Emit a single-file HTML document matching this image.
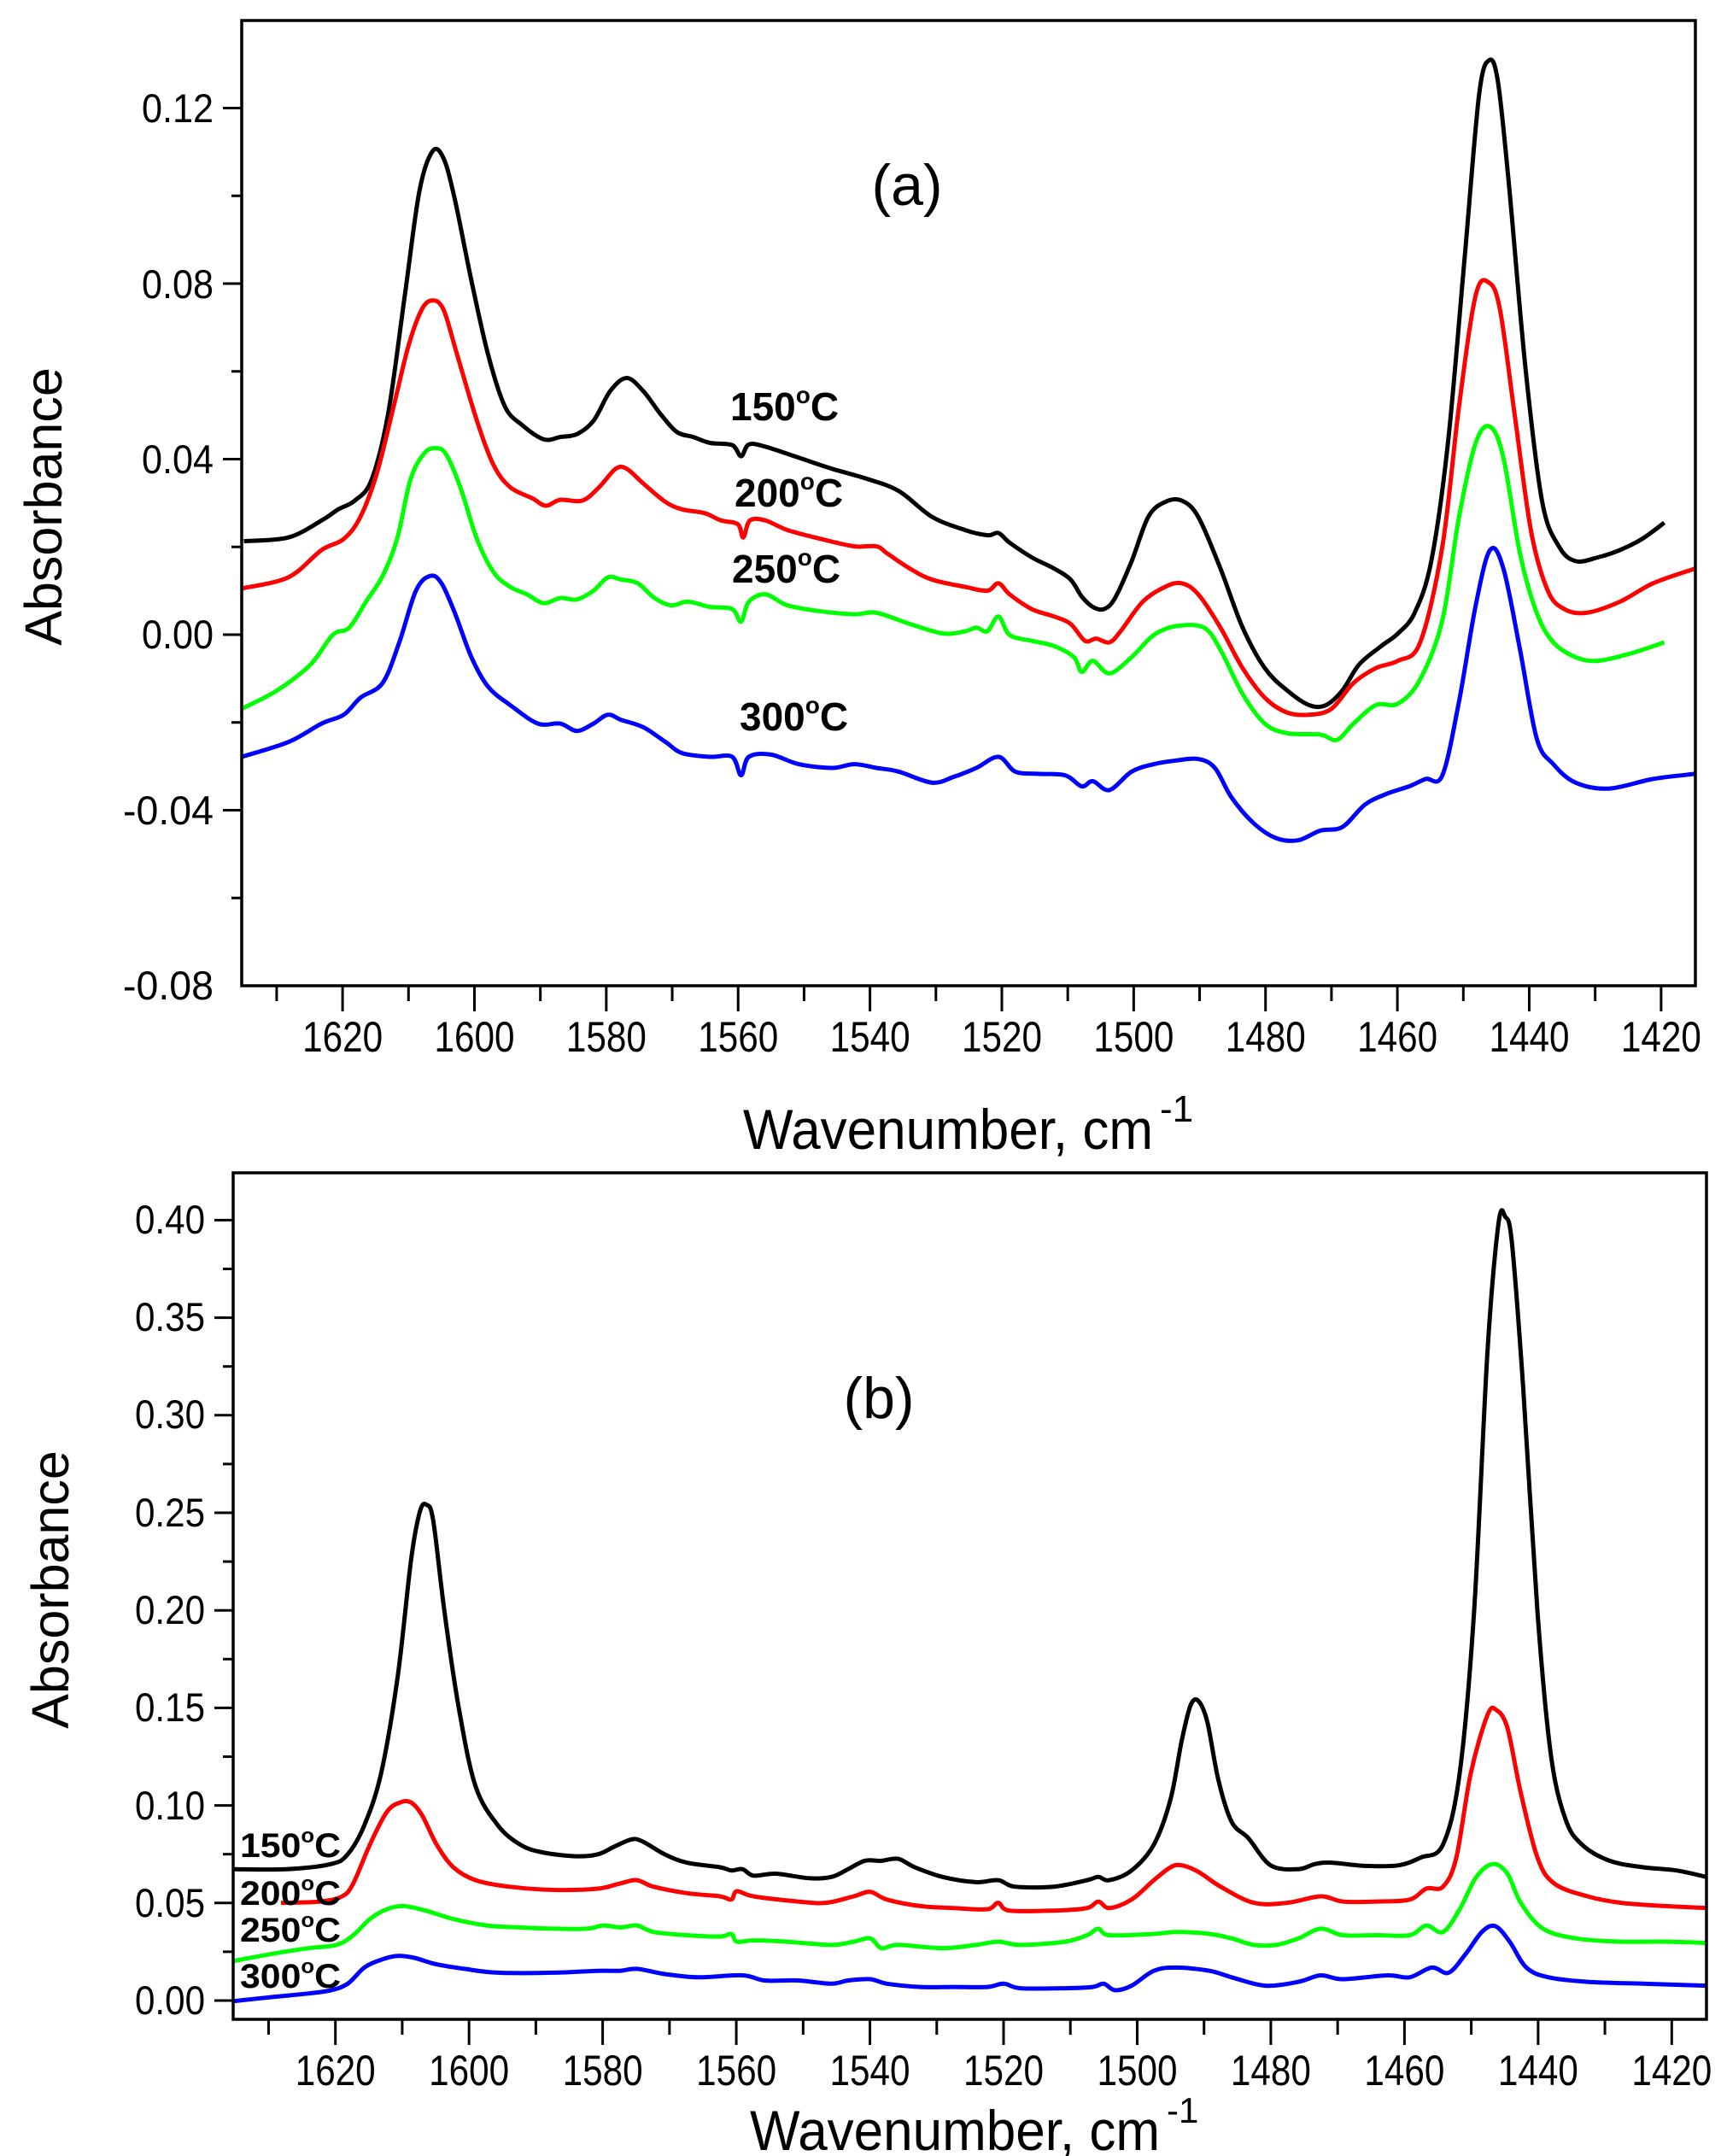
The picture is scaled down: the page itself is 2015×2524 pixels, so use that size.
<!DOCTYPE html>
<html><head><meta charset="utf-8"><style>
html,body{margin:0;padding:0;background:#fff;}
svg{display:block;}
text{font-family:"Liberation Sans",Arial,sans-serif;}
</style></head><body>
<svg id="s" width="2015" height="2524" xmlns="http://www.w3.org/2000/svg">
<g id="g"></g>
<g font-size="47" text-anchor="end" fill="#000">
<text x="250" y="143" textLength="84" lengthAdjust="spacingAndGlyphs">0.12</text>
<text x="250" y="349" textLength="84" lengthAdjust="spacingAndGlyphs">0.08</text>
<text x="250" y="554" textLength="84" lengthAdjust="spacingAndGlyphs">0.04</text>
<text x="250" y="759" textLength="84" lengthAdjust="spacingAndGlyphs">0.00</text>
<text x="250" y="965" textLength="106" lengthAdjust="spacingAndGlyphs">-0.04</text>
<text x="250" y="1170" textLength="106" lengthAdjust="spacingAndGlyphs">-0.08</text>
</g>
<g font-size="47" text-anchor="end" fill="#000">
<text x="240" y="1444" textLength="82" lengthAdjust="spacingAndGlyphs">0.40</text>
<text x="240" y="1558" textLength="82" lengthAdjust="spacingAndGlyphs">0.35</text>
<text x="240" y="1672" textLength="82" lengthAdjust="spacingAndGlyphs">0.30</text>
<text x="240" y="1787" textLength="82" lengthAdjust="spacingAndGlyphs">0.25</text>
<text x="240" y="1901" textLength="82" lengthAdjust="spacingAndGlyphs">0.20</text>
<text x="240" y="2015" textLength="82" lengthAdjust="spacingAndGlyphs">0.15</text>
<text x="240" y="2130" textLength="82" lengthAdjust="spacingAndGlyphs">0.10</text>
<text x="240" y="2244" textLength="82" lengthAdjust="spacingAndGlyphs">0.05</text>
<text x="240" y="2358" textLength="82" lengthAdjust="spacingAndGlyphs">0.00</text>
</g>
<g id="xl"></g>
<text x="1110" y="1345" font-size="66" text-anchor="middle" textLength="480" lengthAdjust="spacingAndGlyphs">Wavenumber, cm</text>
<text x="1358" y="1313" font-size="44">-1</text>
<text x="1118" y="2517" font-size="66" text-anchor="middle" textLength="480" lengthAdjust="spacingAndGlyphs">Wavenumber, cm</text>
<text x="1366" y="2485" font-size="42">-1</text>
<text transform="translate(72,593) rotate(-90)" font-size="61" text-anchor="middle">Absorbance</text>
<text transform="translate(80,1861) rotate(-90)" font-size="61" text-anchor="middle">Absorbance</text>
<text x="1062" y="240" font-size="68" text-anchor="middle">(a)</text>
<text x="1029" y="1660" font-size="68" text-anchor="middle">(b)</text>
<g font-weight="bold" font-size="46">
<text x="855" y="492">150<tspan font-size="28" dy="-20">o</tspan><tspan dy="20">C</tspan></text>
<text x="860" y="593">200<tspan font-size="28" dy="-20">o</tspan><tspan dy="20">C</tspan></text>
<text x="857" y="682">250<tspan font-size="28" dy="-20">o</tspan><tspan dy="20">C</tspan></text>
<text x="866" y="855">300<tspan font-size="28" dy="-20">o</tspan><tspan dy="20">C</tspan></text>
</g>
<g font-weight="bold" font-size="40">
<text x="281" y="2174" textLength="118" lengthAdjust="spacingAndGlyphs">150<tspan font-size="24" dy="-17">o</tspan><tspan dy="17">C</tspan></text>
<text x="281" y="2230" textLength="118" lengthAdjust="spacingAndGlyphs">200<tspan font-size="24" dy="-17">o</tspan><tspan dy="17">C</tspan></text>
<text x="281" y="2273" textLength="118" lengthAdjust="spacingAndGlyphs">250<tspan font-size="24" dy="-17">o</tspan><tspan dy="17">C</tspan></text>
<text x="281" y="2327" textLength="118" lengthAdjust="spacingAndGlyphs">300<tspan font-size="24" dy="-17">o</tspan><tspan dy="17">C</tspan></text>
</g>
</svg>
<script>
var NS="http://www.w3.org/2000/svg",g=document.getElementById('g'),xl=document.getElementById('xl');
function el(t,a,p){var e=document.createElementNS(NS,t);for(var k in a)e.setAttribute(k,a[k]);(p||g).appendChild(e);return e;}
function spline(P){var d="M"+P[0][0].toFixed(1)+","+P[0][1].toFixed(1);
for(var i=0;i<P.length-1;i++){var p0=P[i-1]||P[i],p1=P[i],p2=P[i+1],p3=P[i+2]||p2;
var c1=[p1[0]+(p2[0]-p0[0])/6,p1[1]+(p2[1]-p0[1])/6],c2=[p2[0]-(p3[0]-p1[0])/6,p2[1]-(p3[1]-p1[1])/6];
d+="C"+c1[0].toFixed(1)+","+c1[1].toFixed(1)+" "+c2[0].toFixed(1)+","+c2[1].toFixed(1)+" "+p2[0].toFixed(1)+","+p2[1].toFixed(1);}
return d;}
function panel(F,O,series,yt){
 var mx=function(x){return F[0]+(x-O[0])/(O[2]-O[0])*(F[2]-F[0]);},my=function(y){return F[1]+(y-O[1])/(O[3]-O[1])*(F[3]-F[1]);};
 var clip="c"+F[1];var cp=el('clipPath',{id:clip});el('rect',{x:F[0],y:F[1],width:F[2]-F[0],height:F[3]-F[1]},cp);
 series.forEach(function(s){var P=s[1].map(function(p){return [mx(p[0]),my(p[1])];});
  el('path',{d:spline(P),fill:'none',stroke:s[0],'stroke-width':5,'stroke-linejoin':'round','clip-path':'url(#'+clip+')'});});
 el('rect',{x:F[0],y:F[1],width:F[2]-F[0],height:F[3]-F[1],fill:'none',stroke:'#000','stroke-width':3.5});
 var w0=1635.3,w1=1414.8,wx=function(w){return F[0]+(w0-w)/(w0-w1)*(F[2]-F[0]);};
 for(var w=1630;w>=1415;w-=10){var X=wx(w),maj=(w%20==0);
  el('line',{x1:X,y1:F[3],x2:X,y2:F[3]+(maj?30:18),stroke:'#000','stroke-width':3});
  if(maj){var t=el('text',{x:X,y:F[3]+77,'font-size':50,'text-anchor':'middle',textLength:94,lengthAdjust:'spacingAndGlyphs'},xl);t.textContent=w;}}
 yt.forEach(function(y){el('line',{x1:F[0]-y[1],y1:y[0],x2:F[0],y2:y[0],stroke:'#000','stroke-width':3});});
}
var A_k=[],A_y0=743,A_st=102.75;
for(var i=-4;i<=6;i++){var yy=A_y0-i*A_st;if(yy>24&&yy<1154)A_k.push([yy,i%2==0?22:12]);}
var B_k=[];for(var i=0;i<=17;i++){var yy=2342-i*57.1;if(yy>1373)B_k.push([yy,i%2==0?22:12]);}
var Ablack=[[220,733],[260,728],[290,705],[305,690],[320,678],[335,650],[350,560],[365,400],[378,260],[390,205],[400,215],[410,270],[425,380],[440,480],[455,550],[470,575],[490,595],[505,592],[520,588],[535,570],[550,530],[565,512],[580,530],[595,560],[610,585],[625,592],[640,600],[660,603],[668,618],[675,602],[690,605],[720,620],[750,635],[780,648],[810,665],[840,700],[870,718],[890,725],[900,722],[910,735],[930,755],[950,770],[965,785],[975,808],[985,822],[995,825],[1005,810],[1020,760],[1035,700],[1050,680],[1065,678],[1080,700],[1100,770],[1120,850],[1140,905],[1160,935],[1180,955],[1195,955],[1210,935],[1225,900],[1245,875],[1260,858],[1275,830],[1290,760],[1305,600],[1320,350],[1333,130],[1342,82],[1350,110],[1360,250],[1375,500],[1390,680],[1405,740],[1420,760],[1440,755],[1460,745],[1480,730],[1500,708]];
var Ared=[[218,797],[260,782],[290,745],[310,730],[325,700],[340,640],[355,550],[368,470],[380,420],[390,407],[400,420],[412,480],[430,570],[445,630],[460,660],[480,675],[492,685],[505,677],[525,678],[540,660],[555,635],[565,635],[580,655],[600,680],[615,690],[635,695],[650,705],[665,710],[670,728],[676,705],[690,705],[710,718],[740,730],[770,740],[790,740],[800,750],[820,770],[840,785],[870,795],[890,800],[900,790],[910,805],[930,825],[950,835],[965,845],[978,868],[988,865],[1000,870],[1010,855],[1030,815],[1050,795],[1065,790],[1080,805],[1100,850],[1120,905],[1140,945],[1160,965],[1180,968],[1200,960],[1220,925],[1240,905],[1260,895],[1280,870],[1300,740],[1315,550],[1330,400],[1342,383],[1352,420],[1365,560],[1380,720],[1395,800],[1410,825],[1430,830],[1460,815],[1490,790],[1528,770]];
var Agreen=[[218,960],[250,935],[280,900],[300,860],[315,850],[330,815],[345,780],[358,730],[370,650],[382,615],[392,607],[402,615],[415,660],[430,730],[445,775],[460,795],[475,805],[490,817],[505,810],[520,812],[535,800],[548,782],[560,785],[575,790],[590,810],[605,820],[620,815],[640,822],[660,825],[668,842],[675,815],[690,805],[710,820],[740,828],[770,832],[790,830],[820,845],[850,858],[870,855],[880,850],[890,855],[900,835],[910,860],[930,868],[950,875],[968,890],[975,910],[985,895],[1000,912],[1020,890],[1040,860],[1060,848],[1085,850],[1100,880],[1120,940],[1140,980],[1160,993],[1190,995],[1205,1002],[1220,980],[1240,955],[1260,953],[1280,920],[1300,840],[1315,700],[1330,600],[1343,578],[1355,620],[1370,750],[1385,830],[1400,870],[1420,890],[1440,895],[1470,885],[1500,870]];
var Ablue=[[218,1025],[260,1005],[290,980],[310,968],[325,945],[345,925],[360,870],[375,800],[388,780],[398,790],[410,830],[425,890],[440,930],[460,955],[485,980],[505,980],[520,990],[535,980],[548,968],[560,975],[580,985],[600,1005],[615,1020],[640,1025],[660,1025],[668,1050],[675,1025],[695,1022],[720,1035],[750,1040],[770,1035],[790,1040],[810,1045],[840,1060],[860,1052],[880,1040],[900,1025],[915,1045],[935,1048],[960,1050],[975,1065],[985,1058],[1000,1070],[1020,1045],[1040,1035],[1060,1030],[1080,1028],[1095,1040],[1110,1080],[1130,1115],[1150,1135],[1170,1138],[1190,1125],[1210,1120],[1230,1090],[1250,1075],[1270,1065],[1285,1055],[1300,1050],[1315,950],[1330,820],[1343,745],[1355,770],[1370,880],[1385,1000],[1400,1035],[1420,1060],[1450,1068],[1490,1055],[1528,1048]];
panel([283,24,1985,1154],[218,28,1528,1335],[['#000',Ablack],['#f00',Ared],['#0f0',Agreen],['#00f',Ablue]],A_k);
var Bblack=[[212,1098],[260,1098],[300,1090],[315,1075],[330,1030],[345,950],[360,800],[372,620],[380,545],[386,535],[392,560],[402,700],[415,850],[430,970],[450,1030],[470,1060],[490,1072],[520,1078],[540,1075],[555,1063],[570,1052],[580,1055],[600,1075],[620,1088],[650,1095],[660,1100],[670,1098],[680,1108],[700,1105],[730,1112],[750,1110],[765,1098],[780,1085],[795,1085],[810,1082],[825,1095],[850,1110],[880,1118],[900,1115],[915,1125],[950,1125],[980,1115],[990,1110],[1000,1115],[1020,1100],[1040,1060],[1055,990],[1065,900],[1073,845],[1080,838],[1088,870],[1098,960],[1110,1025],[1125,1050],[1145,1092],[1170,1098],[1185,1090],[1200,1088],[1230,1093],[1260,1092],[1280,1080],[1300,1060],[1315,950],[1328,700],[1340,300],[1350,100],[1356,90],[1362,130],[1372,350],[1385,700],[1397,920],[1410,1020],[1425,1060],[1450,1085],[1480,1095],[1510,1100],[1537,1110]];
var Bred=[[255,1150],[290,1148],[310,1140],[320,1120],[335,1060],[350,1010],[362,995],[372,995],[382,1015],[395,1060],[410,1095],[430,1115],[460,1125],[500,1130],[540,1128],[560,1120],[575,1115],[590,1125],[620,1135],[650,1140],[660,1145],[665,1132],[680,1140],[720,1148],[745,1150],[770,1140],[785,1133],[800,1145],[830,1155],[860,1158],[890,1160],[900,1150],[910,1162],[950,1162],[980,1158],[990,1148],[1000,1158],[1020,1145],[1040,1115],[1055,1095],[1065,1092],[1080,1102],[1100,1125],[1130,1150],[1160,1150],[1190,1140],[1210,1148],[1240,1148],[1270,1145],[1285,1128],[1300,1125],[1312,1080],[1325,950],[1340,860],[1348,852],[1358,880],[1370,980],[1385,1080],[1400,1120],[1430,1140],[1460,1150],[1500,1155],[1537,1158]];
var Bgreen=[[212,1240],[250,1228],[280,1220],[305,1215],[320,1200],[335,1175],[350,1160],[365,1155],[385,1162],[410,1175],[440,1185],[470,1188],[500,1190],[530,1190],[545,1185],[560,1188],[575,1185],[590,1195],[620,1200],[650,1202],[660,1198],[665,1210],[680,1208],[710,1210],[750,1215],[770,1210],[785,1205],[795,1220],[810,1215],[850,1220],[880,1215],[900,1210],[920,1215],[960,1210],[980,1200],[990,1190],[1000,1200],[1040,1198],[1060,1195],[1090,1198],[1110,1205],[1130,1215],[1150,1215],[1170,1205],[1190,1190],[1210,1200],[1240,1200],[1270,1200],[1285,1185],[1300,1195],[1315,1160],[1330,1110],[1345,1090],[1358,1105],[1370,1150],[1390,1190],[1420,1205],[1460,1210],[1500,1210],[1537,1212]];
var Bblue=[[212,1302],[250,1295],[280,1290],[300,1285],[315,1275],[330,1250],[345,1238],[360,1232],[375,1235],[395,1245],[420,1252],[450,1258],[500,1258],[540,1255],[560,1255],[575,1252],[600,1260],[630,1265],[670,1262],[690,1270],[720,1270],[750,1275],[765,1270],[785,1268],[800,1275],[830,1280],[860,1280],[890,1280],[905,1275],[920,1282],[960,1282],[985,1280],[995,1275],[1005,1285],[1020,1278],[1040,1255],[1060,1250],[1090,1255],[1110,1265],[1140,1278],[1170,1272],[1190,1262],[1210,1268],[1250,1262],[1270,1265],[1290,1250],[1305,1258],[1320,1230],[1335,1195],[1347,1186],[1360,1210],[1375,1250],[1395,1265],[1430,1272],[1480,1275],[1537,1278]];
panel([273,1373,1998,2364],[212,22,1537,1330],[['#000',Bblack],['#f00',Bred],['#0f0',Bgreen],['#00f',Bblue]],B_k);
</script>
</body></html>
